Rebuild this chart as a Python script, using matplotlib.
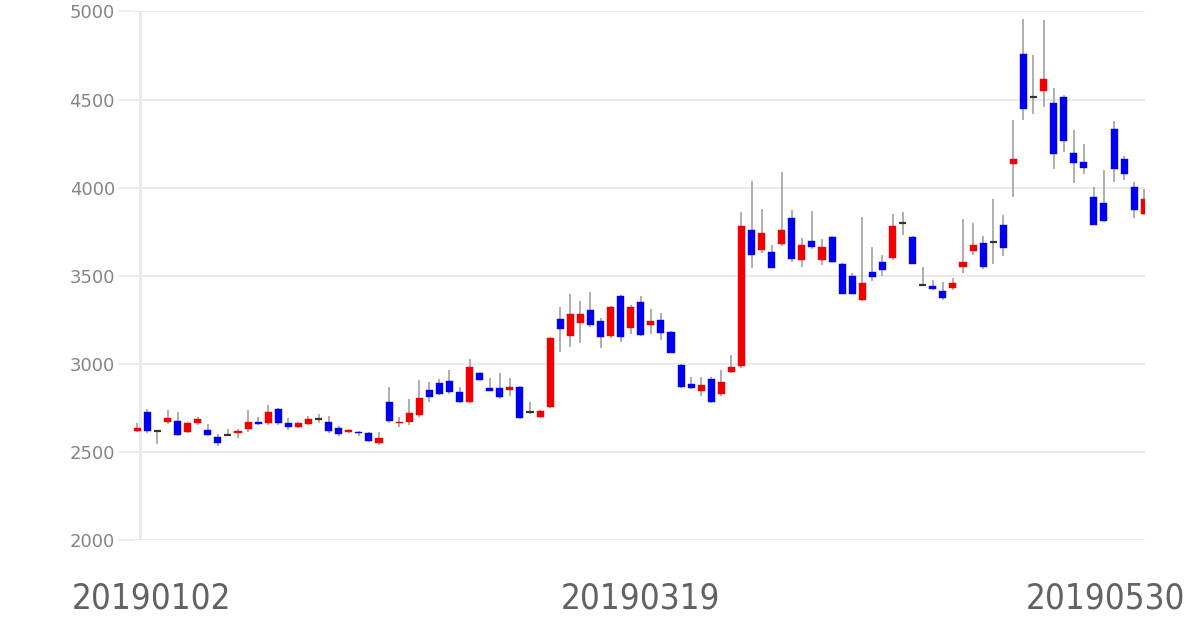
# plot.py
# Daily candlestick chart, 2019-01-02 .. 2019-05-30 (red = up, blue = down)

import matplotlib
matplotlib.use("Agg")
import matplotlib.pyplot as plt
import matplotlib.transforms as mtransforms
from matplotlib import font_manager

opens = [2620, 2728, 2618, 2668, 2677, 2611, 2662, 2624, 2586, 2597,
         2609, 2628, 2671, 2665, 2741, 2665, 2639, 2658, 2685, 2671,
         2637, 2613, 2614, 2605, 2552, 2781, 2664, 2668, 2709, 2851,
         2889, 2904, 2841, 2784, 2945, 2860, 2864, 2852, 2870, 2725,
         2696, 2756, 3257, 3157, 3233, 3305, 3244, 3157, 3386, 3201,
         3352, 3219, 3248, 3182, 2993, 2885, 2847, 2911, 2828, 2955,
         2987, 3762, 3645, 3635, 3679, 3825, 3588, 3698, 3592, 3717,
         3569, 3497, 3361, 3523, 3579, 3598, 3800, 3717, 3446, 3441,
         3414, 3428, 3550, 3641, 3687, 3692, 3787, 4133, 4760, 4514,
         4549, 4480, 4514, 4197, 4143, 3947, 3913, 4335, 4165, 4004,
         3853]
highs = [2665, 2741, 2625, 2737, 2728, 2672, 2700, 2660, 2600, 2628,
         2628, 2737, 2700, 2766, 2750, 2690, 2672, 2705, 2715, 2705,
         2645, 2630, 2620, 2615, 2614, 2870, 2700, 2798, 2907, 2898,
         2913, 2964, 2870, 3025, 2952, 2917, 2945, 2917, 2875, 2784,
         2740, 3150, 3323, 3399, 3354, 3408, 3260, 3330, 3393, 3335,
         3384, 3310, 3290, 3185, 3000, 2926, 2926, 2926, 2964, 3049,
         3862, 4035, 3881, 3677, 4089, 3872, 3713, 3868, 3711, 3725,
         3575, 3515, 3834, 3664, 3620, 3853, 3860, 3725, 3550, 3475,
         3465, 3485, 3824, 3800, 3728, 3938, 3843, 4382, 4959, 4751,
         4949, 4568, 4523, 4329, 4250, 4004, 4102, 4378, 4182, 4032,
         3990]
lows = [2612, 2605, 2545, 2660, 2592, 2605, 2650, 2592, 2533, 2588,
        2577, 2614, 2652, 2655, 2655, 2626, 2635, 2652, 2665, 2605,
        2590, 2605, 2593, 2558, 2540, 2666, 2643, 2650, 2700, 2785,
        2825, 2828, 2775, 2780, 2900, 2843, 2803, 2820, 2688, 2715,
        2692, 2750, 3068, 3097, 3119, 3210, 3087, 3145, 3121, 3172,
        3160, 3172, 3135, 3060, 2860, 2855, 2817, 2780, 2820, 2950,
        2977, 3541, 3630, 3541, 3670, 3580, 3549, 3650, 3560, 3575,
        3395, 3395, 3355, 3469, 3497, 3590, 3730, 3565, 3440, 3420,
        3365, 3420, 3513, 3620, 3540, 3569, 3611, 3947, 4386, 4420,
        4458, 4108, 4203, 4027, 4076, 3787, 3805, 4032, 4042, 3830,
        3845]
closes = [2635, 2620, 2618, 2694, 2596, 2662, 2685, 2596, 2552, 2597,
          2618, 2671, 2658, 2728, 2662, 2639, 2665, 2685, 2685, 2620,
          2601, 2624, 2606, 2563, 2577, 2677, 2672, 2719, 2804, 2813,
          2828, 2841, 2781, 2983, 2907, 2848, 2809, 2866, 2690, 2725,
          2733, 3144, 3195, 3282, 3282, 3223, 3150, 3320, 3150, 3323,
          3163, 3244, 3176, 3063, 2866, 2860, 2879, 2785, 2898, 2983,
          3781, 3617, 3743, 3541, 3762, 3597, 3673, 3661, 3664, 3579,
          3399, 3399, 3459, 3490, 3531, 3781, 3800, 3569, 3446, 3425,
          3371, 3456, 3579, 3673, 3547, 3692, 3660, 4161, 4449, 4514,
          4619, 4189, 4265, 4137, 4112, 3787, 3811, 4108, 4080, 3872,
          3938]

tick_dates = ["20190102", "20190319", "20190530"]
tick_index = [0, 50, 100]
y_ticks = [2000, 2500, 3000, 3500, 4000, 4500, 5000]

UP = "#f20000"
DOWN = "#0000f0"
WICK = "#a8a8a8"
GRID = "#e8e8e8"


def narrow_font():
    # the date labels are drawn in a condensed face; use one if there is one
    for f in font_manager.fontManager.ttflist:
        if f.style != "normal" or f.weight not in (400, "normal", "regular"):
            continue
        if "Narrow" in f.name or "Condensed" in f.name or f.stretch == "condensed":
            return font_manager.FontProperties(fname=f.fname, size=25), True
    return font_manager.FontProperties(family="DejaVu Sans", size=21), False


def draw_candles(ax):
    xs = list(range(len(opens)))
    ax.vlines(xs, lows, highs, color=WICK, linewidth=1.3, zorder=2)
    for i in xs:
        o, c = opens[i], closes[i]
        if o == c:
            ax.hlines(o, i - 0.35, i + 0.35, color="#333333", linewidth=1.6, zorder=3)
            continue
        color = UP if c > o else DOWN
        ax.bar(i, abs(c - o), bottom=min(o, c), width=0.7, color=color,
               edgecolor=color, linewidth=0.3, zorder=3)


def main():
    fig = plt.figure(figsize=(12, 6.3), dpi=100)
    ax = fig.add_axes([0.1115, 0.1429, 0.8427, 0.8389])

    draw_candles(ax)

    ax.set_xlim(-0.35, 100.08)
    ax.set_ylim(2000, 5000)
    for s in ax.spines.values():
        s.set_visible(False)

    ax.set_yticks(y_ticks)
    ax.set_yticklabels([str(v) for v in y_ticks])
    ax.tick_params(axis="y", length=11.5, width=1.1, color=GRID,
                   labelcolor="#858585", labelsize=13, pad=2)
    ax.grid(axis="y", color=GRID, linewidth=1.2, zorder=0)
    ax.set_axisbelow(True)
    ax.axvline(0.27, color=GRID, linewidth=2, zorder=1)

    # date labels under the plot; outer ones nudged to stay in the frame
    ax.set_xticks([])
    fp, _ = narrow_font()
    shifts = [14, 0, -39]
    for idx, label, dx in zip(tick_index, tick_dates, shifts):
        tr = mtransforms.offset_copy(ax.get_xaxis_transform(), fig=fig,
                                     x=dx, y=-59, units="dots")
        ax.text(idx, 0, label, transform=tr, ha="center", va="center",
                fontproperties=fp, color="#626262")

    fig.savefig("out.png", dpi=100)


if __name__ == '__main__':
    main()
